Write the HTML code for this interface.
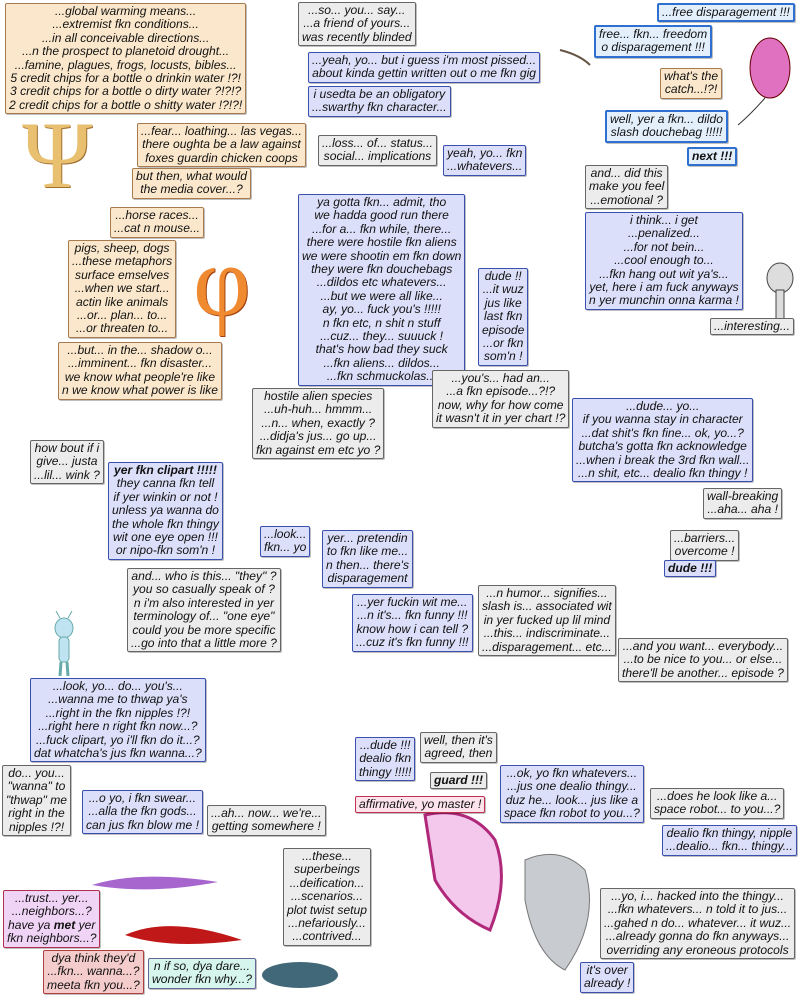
<!DOCTYPE html>
<html><head><meta charset="utf-8">
<style>
html,body{margin:0;padding:0;background:#fff;}
body{width:800px;height:1000px;position:relative;overflow:hidden;font-family:"Liberation Sans",sans-serif;}
.b{position:absolute;font-style:italic;font-size:12.1px;line-height:13.4px;text-align:center;white-space:nowrap;padding:1px 3px;border:1.5px solid #666;border-radius:2px;color:#111;box-shadow:1px 1px 0 rgba(0,0,0,.25);}
.t{background:#fbe8cc;border-color:#a87a50;}
.l{background:#dcdff9;border-color:#3a50b0;}
.g{background:#ececec;border-color:#666;}
.u{background:#e4effc;border-color:#2f6fd0;border-width:2px;}
.p{background:#f0d4f6;border-color:#b03050;}
.r{background:#f5cccc;border-color:#b04040;}
.c{background:#d6f5ec;border-color:#669;}
.k{background:#fde4ec;border-color:#c03050;}
b{font-weight:bold;}
svg{position:absolute;}
</style></head><body>

<svg style="left:0;top:0" width="800" height="1000">
<path d="M92 885 Q140 870 218 882 Q150 895 92 885Z" fill="#9040c0" opacity=".8"/>
<path d="M125 935 Q170 915 242 940 Q170 950 125 935Z" fill="#c01818"/>
<ellipse cx="300" cy="975" rx="38" ry="13" fill="#406878"/>
<path d="M425 815 Q470 805 495 840 Q510 880 490 930 Q455 915 435 880Z" fill="#f3c8ec" stroke="#b0287a" stroke-width="3"/>
<path d="M525 860 Q560 845 585 870 Q600 920 565 970 Q535 955 525 900Z" fill="#c8ccd0" stroke="#777"/>
<ellipse cx="770" cy="68" rx="20" ry="30" fill="#e070c0" stroke="#600"/>
<path d="M765 98 Q750 115 738 125" stroke="#333" fill="none"/>
<path d="M560 50 Q580 55 590 65" stroke="#654" fill="none" stroke-width="2"/>
<ellipse cx="780" cy="278" rx="13" ry="15" fill="#ddd" stroke="#444"/>
<rect x="776" y="290" width="8" height="35" fill="#ddd" stroke="#444"/>
<ellipse cx="64" cy="628" rx="9" ry="10" fill="#bfe3f0" stroke="#6aa"/>
<line x1="60" y1="618" x2="56" y2="611" stroke="#6aa"/><line x1="68" y1="618" x2="72" y2="611" stroke="#6aa"/>
<rect x="59" y="637" width="10" height="25" rx="4" fill="#bfe3f0" stroke="#6aa"/>
<line x1="61" y1="662" x2="60" y2="676" stroke="#6aa" stroke-width="3"/><line x1="67" y1="662" x2="68" y2="676" stroke="#6aa" stroke-width="3"/>
</svg>

<div class="b t" style="left:5px;top:3px;">...global warming means...<br>...extremist fkn conditions...<br>...in all conceivable directions...<br>...n the prospect to planetoid drought...<br>...famine, plagues, frogs, locusts, bibles...<br>5 credit chips for a bottle o drinkin water !?!<br>3 credit chips for a bottle o dirty water ?!?!?<br>2 credit chips for a bottle o shitty water !?!?!</div>
<div class="b t" style="left:137px;top:123px;">...fear... loathing... las vegas...<br>there oughta be a law against<br>foxes guardin chicken coops</div>
<div class="b t" style="left:132px;top:168px;">but then, what would<br>the media cover...?</div>
<div class="b t" style="left:110px;top:207px;">...horse races...<br>...cat n mouse...</div>
<div class="b t" style="left:68px;top:240px;">pigs, sheep, dogs<br>...these metaphors<br>surface emselves<br>...when we start...<br>actin like animals<br>...or... plan... to...<br>...or threaten to...</div>
<div class="b t" style="left:58px;top:342px;">...but... in the... shadow o...<br>...imminent... fkn disaster...<br>we know what people're like<br>n we know what power is like</div>

<div style="position:absolute;left:22px;top:108px;font-family:'Liberation Serif',serif;font-size:95px;line-height:95px;color:#e8c070;text-shadow:1px 1px 0 #a07030;">Ψ</div>
<div style="position:absolute;left:193px;top:232px;font-family:'Liberation Serif',serif;font-size:100px;line-height:100px;color:#f08a30;text-shadow:1px 1px 0 #a04010;">φ</div>

<div class="b g" style="left:298px;top:2px;">...so... you... say...<br>...a friend of yours...<br>was recently blinded</div>
<div class="b l" style="left:308px;top:52px;">...yeah, yo... but i guess i'm most pissed...<br>about kinda gettin written out o me fkn gig</div>
<div class="b l" style="left:308px;top:86px;">i usedta be an obligatory<br>...swarthy fkn character...</div>
<div class="b g" style="left:318px;top:135px;">...loss... of... status...<br>social... implications</div>
<div class="b l" style="left:443px;top:145px;">yeah, yo... fkn<br>...whatevers...</div>
<div class="b l" style="left:298px;top:194px;">ya gotta fkn... admit, tho<br>we hadda good run there<br>...for a... fkn while, there...<br>there were hostile fkn aliens<br>we were shootin em fkn down<br>they were fkn douchebags<br>...dildos etc whatevers...<br>...but we were all like...<br>ay, yo... fuck you's !!!!!<br>n fkn etc, n shit n stuff<br>...cuz... they... suuuck !<br>that's how bad they suck<br>...fkn aliens... dildos...<br>...fkn schmuckolas...</div>
<div class="b l" style="left:478px;top:268px;">dude !!<br>...it wuz<br>jus like<br>last fkn<br>episode<br>...or fkn<br>som'n !</div>
<div class="b g" style="left:432px;top:370px;">...you's... had an...<br>...a fkn episode...?!?<br>now, why for how come<br>it wasn't it in yer chart !?</div>
<div class="b g" style="left:252px;top:388px;">hostile alien species<br>...uh-huh... hmmm...<br>...n... when, exactly ?<br>...didja's jus... go up...<br>fkn against em etc yo ?</div>

<div class="b u" style="left:657px;top:3px;">...free disparagement !!!</div>
<div class="b u" style="left:594px;top:25px;">free... fkn... freedom<br>o disparagement !!!</div>
<div class="b t" style="left:660px;top:68px;">what's the<br>catch...!?!</div>
<div class="b u" style="left:605px;top:110px;">well, yer a fkn... dildo<br>slash douchebag !!!!!</div>
<div class="b u" style="left:687px;top:147px;"><b>next !!!</b></div>
<div class="b g" style="left:585px;top:165px;">and... did this<br>make you feel<br>...emotional ?</div>
<div class="b l" style="left:585px;top:212px;">i think... i get<br>...penalized...<br>...for not bein...<br>...cool enough to...<br>...fkn hang out wit ya's...<br>yet, here i am fuck anyways<br>n yer munchin onna karma !</div>
<div class="b g" style="left:710px;top:318px;">...interesting...</div>
<div class="b l" style="left:572px;top:398px;">...dude... yo...<br>if you wanna stay in character<br>...dat shit's fkn fine... ok, yo...?<br>butcha's gotta fkn acknowledge<br>...when i break the 3rd fkn wall...<br>...n shit, etc... dealio fkn thingy !</div>
<div class="b g" style="left:703px;top:488px;">wall-breaking<br>...aha... aha !</div>
<div class="b g" style="left:670px;top:530px;">...barriers...<br>overcome !</div>
<div class="b l" style="left:664px;top:560px;"><b>dude !!!</b></div>

<div class="b g" style="left:30px;top:440px;">how bout if i<br>give... justa<br>...lil... wink ?</div>
<div class="b l" style="left:108px;top:462px;"><b>yer fkn clipart !!!!!</b><br>they canna fkn tell<br>if yer winkin or not !<br>unless ya wanna do<br>the whole fkn thingy<br>wit one eye open !!!<br>or nipo-fkn som'n !</div>
<div class="b l" style="left:260px;top:526px;">...look...<br>fkn... yo</div>
<div class="b l" style="left:322px;top:530px;">yer... pretendin<br>to fkn like me...<br>n then... there's<br>disparagement</div>
<div class="b g" style="left:127px;top:568px;">and... who is this... "they" ?<br>you so casually speak of ?<br>n i'm also interested in yer<br>terminology of... "one eye"<br>could you be more specific<br>...go into that a little more ?</div>
<div class="b l" style="left:352px;top:594px;">...yer fuckin wit me...<br>...n it's... fkn funny !!!<br>know how i can tell ?<br>...cuz it's fkn funny !!!</div>
<div class="b g" style="left:478px;top:585px;">...n humor... signifies...<br>slash is... associated wit<br>in yer fucked up lil mind<br>...this... indiscriminate...<br>...disparagement... etc...</div>
<div class="b g" style="left:618px;top:638px;">...and you want... everybody...<br>...to be nice to you... or else...<br>there'll be another... episode ?</div>

<div class="b l" style="left:30px;top:678px;">...look, yo... do... you's...<br>...wanna me to thwap ya's<br>...right in the fkn nipples !?!<br>...right here n right fkn now...?<br>...fuck clipart, yo i'll fkn do it...?<br>dat whatcha's jus fkn wanna...?</div>
<div class="b l" style="left:355px;top:737px;">...dude !!!<br>dealio fkn<br>thingy !!!!!</div>
<div class="b g" style="left:420px;top:732px;">well, then it's<br>agreed, then</div>
<div class="b g" style="left:430px;top:772px;"><b>guard !!!</b></div>
<div class="b k" style="left:355px;top:796px;">affirmative, yo master !</div>
<div class="b l" style="left:500px;top:765px;">...ok, yo fkn whatevers...<br>...jus one dealio thingy...<br>duz he... look... jus like a<br>space fkn robot to you...?</div>
<div class="b g" style="left:650px;top:788px;">...does he look like a...<br>space robot... to you...?</div>
<div class="b l" style="left:662px;top:825px;">dealio fkn thingy, nipple<br>...dealio... fkn... thingy...</div>
<div class="b g" style="left:2px;top:765px;">do... you...<br>"wanna" to<br>"thwap" me<br>right in the<br>nipples !?!</div>
<div class="b l" style="left:82px;top:790px;">...o yo, i fkn swear...<br>...alla the fkn gods...<br>can jus fkn blow me !</div>
<div class="b g" style="left:207px;top:805px;">...ah... now... we're...<br>getting somewhere !</div>
<div class="b g" style="left:283px;top:848px;">...these...<br>superbeings<br>...deification...<br>...scenarios...<br>plot twist setup<br>...nefariously...<br>...contrived...</div>

<div class="b p" style="left:3px;top:890px;">...trust... yer...<br>...neighbors...?<br>have ya <b>met</b> yer<br>fkn neighbors...?</div>
<div class="b r" style="left:43px;top:950px;">dya think they'd<br>...fkn... wanna...?<br>meeta fkn you...?</div>
<div class="b c" style="left:148px;top:958px;">n if so, dya dare...<br>wonder fkn why...?</div>
<div class="b g" style="left:600px;top:888px;">...yo, i... hacked into the thingy...<br>...fkn whatevers... n told it to jus...<br>...gahed n do... whatever... it wuz...<br>...already gonna do fkn anyways...<br>overriding any eroneous protocols</div>
<div class="b l" style="left:580px;top:962px;">it's over<br>already !</div>
</body></html>
